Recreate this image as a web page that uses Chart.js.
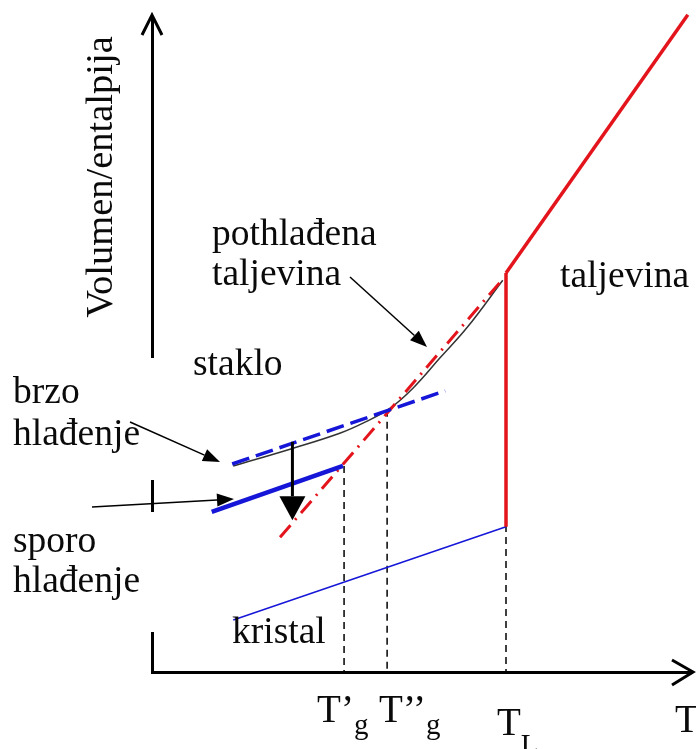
<!DOCTYPE html>
<html>
<head>
<meta charset="utf-8">
<script src="https://cdn.jsdelivr.net/npm/chart.js@4.4.1/dist/chart.umd.min.js"></script>
<style>
body { margin: 0; background: #fff; }
#wrap { width: 696px; height: 749px; }
</style>
</head>
<body>
<div id="wrap"><canvas id="chart1"></canvas></div>
<script>
// x = temperatura, y = volumen/entalpija (both on a 0-100 scale)
var taljevinaT = [65.8, 99.6];
var taljevinaV = [61.0, 100.5];

var skokT = [65.8, 65.8];
var skokV = [61.0, 22.2];

var kristalT = [15.1, 65.8];
var kristalV = [7.95, 22.2];

var pothladenaT = [15.1, 25.8, 34.9, 39.6, 44.2, 48.5, 53.5, 58.6, 65.2];
var pothladenaV = [31.5, 34.1, 36.5, 38.2, 40.3, 43.4, 48.0, 52.7, 59.9];

var ekstrapolacijaT = [23.8, 64.7];
var ekstrapolacijaV = [20.6, 59.6];

var brzoT = [14.9, 54.5];
var brzoV = [31.8, 43.0];

var sporoT = [11.1, 35.5];
var sporoV = [24.5, 31.5];

// dashed drop lines from the curve to the axis
var tg1T = [35.7, 35.7], tg1V = [31.5, 0];
var tg2T = [43.7, 43.7], tg2V = [40.1, 0];
var tlT = [65.8, 65.8], tlV = [61.0, 0];

var tickT = [35.7, 43.7, 65.8, 100];
var tickMain = ['T\u2019', 'T\u2019\u2019', 'T', 'T'];
var tickSub = ['g', 'g', 'L', ''];

var RED = '#e3141b';
var BLUE = '#1616d8';

function pts(xs, ys) {
	return xs.map(function(x, i) { return {x: x, y: ys[i]}; });
}

function line(label, xs, ys, color, width, dash) {
	return {
		label: label,
		data: pts(xs, ys),
		showLine: true,
		borderColor: color,
		backgroundColor: color,
		borderWidth: width,
		borderDash: dash || [],
		pointRadius: 0,
		fill: false,
		clip: false
	};
}

function arrow(c, x1, y1, x2, y2, len, half) {
	var ang = Math.atan2(y2 - y1, x2 - x1);
	var bx = x2 - len * Math.cos(ang), by = y2 - len * Math.sin(ang);
	c.beginPath();
	c.moveTo(x1, y1);
	c.lineTo(bx, by);
	c.stroke();
	c.beginPath();
	c.moveTo(x2, y2);
	c.lineTo(bx + half * Math.sin(ang), by - half * Math.cos(ang));
	c.lineTo(bx - half * Math.sin(ang), by + half * Math.cos(ang));
	c.closePath();
	c.fill();
}

var overlay = {
	id: 'overlay',
	afterDraw: function(chart) {
		var c = chart.ctx, a = chart.chartArea;
		var xs = chart.scales.x, ys = chart.scales.y;
		c.save();

		// breaks in the y axis behind the left labels
		c.fillStyle = '#fff';
		c.fillRect(a.left - 6, 358, 12, 122);
		c.fillRect(a.left - 6, 512, 12, 120);

		// axis arrow heads
		c.strokeStyle = '#000';
		c.lineWidth = 3;
		c.beginPath();
		c.moveTo(a.left, a.top); c.lineTo(a.left, 15);
		c.moveTo(a.left - 10, 35); c.lineTo(a.left, 15); c.lineTo(a.left + 10, 35);
		c.moveTo(a.right, a.bottom); c.lineTo(693, a.bottom);
		c.moveTo(672, a.bottom - 12); c.lineTo(693, a.bottom); c.lineTo(672, a.bottom + 13);
		c.stroke();

		// pointer arrows
		c.fillStyle = '#000';
		c.lineWidth = 1.5;
		arrow(c, 130, 422, 220, 462, 17, 6.5);
		arrow(c, 92, 507, 234, 499, 17, 6.5);
		arrow(c, 350, 277, 427, 347, 17, 6.5);

		// cooling rate arrow
		c.lineWidth = 3;
		var ax = xs.getPixelForValue(26.1);
		arrow(c, ax, ys.getPixelForValue(35.2), ax, ys.getPixelForValue(23.2), 24, 13);

		// labels
		c.fillStyle = '#0a0a0a';
		c.textBaseline = 'alphabetic';
		c.textAlign = 'left';
		c.font = '37.5px "Liberation Serif"';
		[
			['brzo', 13, 403], ['hla\u0111enje', 13, 445],
			['sporo', 13, 552], ['hla\u0111enje', 13, 592],
			['staklo', 193, 375],
			['pothla\u0111ena', 212, 245], ['taljevina', 212, 285],
			['taljevina', 560, 287],
			['kristal', 232, 643]
		].forEach(function(l) { c.fillText(l[0], l[1], l[2]); });

		c.save();
		c.translate(112, 177);
		c.rotate(-Math.PI / 2);
		c.textAlign = 'center';
		c.font = '38.5px "Liberation Serif"';
		c.fillText('Volumen/entalpija', 0, 0);
		c.restore();

		// temperature tick labels
		var dx = [-27, -8, -9, -15];
		var base = [722, 722, 735, 732];
		var subDy = [12, 12, 19, 0];
		tickT.forEach(function(t, i) {
			var x = xs.getPixelForValue(t) + dx[i];
			c.font = '39px "Liberation Serif"';
			c.fillText(tickMain[i], x, base[i]);
			var w = c.measureText(tickMain[i]).width;
			c.font = '29px "Liberation Serif"';
			c.fillText(tickSub[i], x + w, base[i] + subDy[i]);
		});
		c.restore();
	}
};

var chart1 = new Chart(document.getElementById('chart1').getContext('2d'), {
	type: 'scatter',
	data: {
		datasets: [
			line('taljevina', taljevinaT, taljevinaV, RED, 3.5),
			line('kristalizacija', skokT, skokV, RED, 3.5),
			line('brzo hlađenje', brzoT, brzoV, BLUE, 3.5, [18, 7]),
			line('sporo hlađenje', sporoT, sporoV, BLUE, 4.5),
			line('ekstrapolacija', ekstrapolacijaT, ekstrapolacijaV, RED, 3, [16, 7, 2, 7]),
			Object.assign(line('pothlađena taljevina', pothladenaT, pothladenaV, '#333', 1.5), {tension: 0.4}),
			line('kristal', kristalT, kristalV, BLUE, 1.5),
			line("T'g", tg1T, tg1V, '#000', 1.5, [7, 5]),
			line("T''g", tg2T, tg2V, '#000', 1.5, [7, 5]),
			line('TL', tlT, tlV, '#000', 1.5, [7, 5])
		]
	},
	options: {
		responsive: true,
		maintainAspectRatio: false,
		animation: false,
		layout: { padding: { left: 152, top: 18, right: 6, bottom: 77 } },
		plugins: { legend: { display: false }, tooltip: { enabled: false } },
		scales: {
			x: {
				type: 'linear', min: 0, max: 100,
				grid: { display: false, drawTicks: false },
				ticks: { display: false },
				border: { display: true, color: '#000', width: 3 }
			},
			y: {
				type: 'linear', min: 0, max: 100,
				grid: { display: false, drawTicks: false },
				ticks: { display: false },
				border: { display: true, color: '#000', width: 3 }
			}
		}
	},
	plugins: [overlay]
});
</script>
</body>
</html>
